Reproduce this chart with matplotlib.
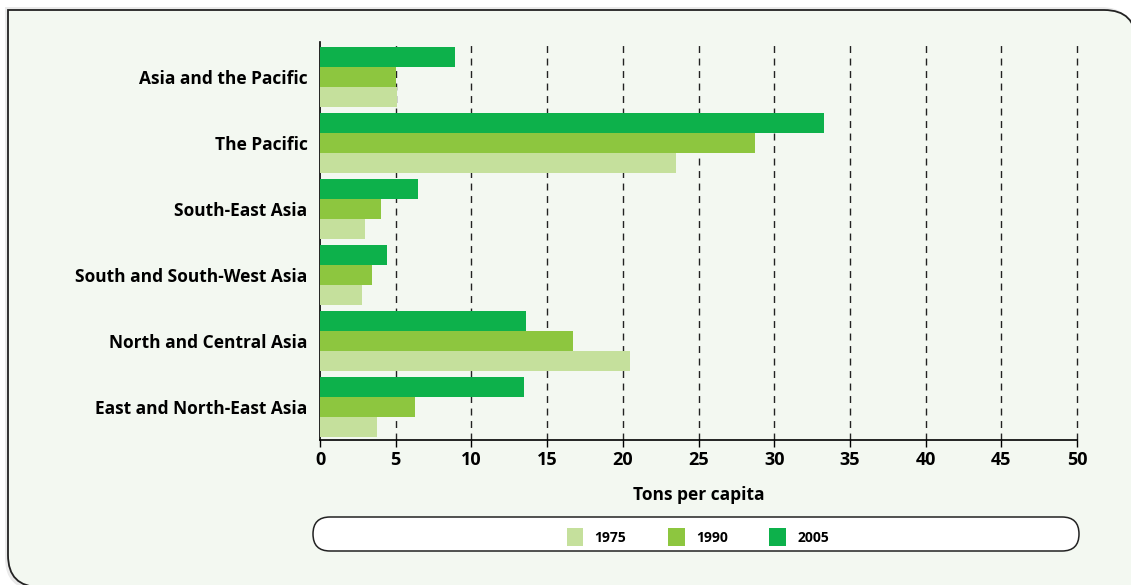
import matplotlib
matplotlib.use("Agg")
from matplotlib import pyplot as plt
from matplotlib.path import Path
from matplotlib.patches import PathPatch, FancyBboxPatch
import numpy as np

plt.rcParams['font.family'] = ['Open Sans', 'DejaVu Sans']

regions = ["Asia and the Pacific", "The Pacific", "South-East Asia",
           "South and South-West Asia", "North and Central Asia",
           "East and North-East Asia"]
years = ["1975", "1990", "2005"]
v1975 = [5.1, 23.5, 3.0, 2.75, 20.5, 3.75]
v1990 = [5.0, 28.7, 4.05, 3.45, 16.7, 6.25]
v2005 = [8.9, 33.3, 6.45, 4.4, 13.6, 13.5]
colors = ["#c5e09c", "#8dc63f", "#0db14b"]

W, H = 1131, 585
fig = plt.figure(figsize=(W / 100, H / 100), dpi=100)
fig.patch.set_facecolor("white")

# background panel, drawn in pixel coords
bg = fig.add_axes([0, 0, 1, 1])
bg.set_xlim(0, W)
bg.set_ylim(H, 0)
bg.axis("off")

def panel_path(x0, y0, x1, y1, r):
    # square top-left, rounded top-right and bottom-left
    verts = [(x0, y1 - r), (x0, y0), (x1 - r, y0), (x1, y0), (x1, y0 + r),
             (x1, y1), (x0 + r, y1), (x0, y1), (x0, y1 - r), (x0, y1 - r)]
    codes = [Path.MOVETO, Path.LINETO, Path.LINETO, Path.CURVE3, Path.CURVE3,
             Path.LINETO, Path.LINETO, Path.CURVE3, Path.CURVE3, Path.CLOSEPOLY]
    return Path(verts, codes)

r = 32
bg.add_patch(PathPatch(panel_path(5, 7, 1133, 590, r), facecolor="#dcdcdc",
                       edgecolor="none", alpha=0.6))
bg.add_patch(PathPatch(panel_path(8, 10, 1136, 587, r), facecolor="#f3f8f1",
                       edgecolor="#222222", linewidth=1.3))

# legend box
bg.add_patch(FancyBboxPatch((313, 517), 766, 34,
                            boxstyle="round,pad=0,rounding_size=17",
                            facecolor="white", edgecolor="#222222", linewidth=1.1))

# main chart
ax = fig.add_axes([320 / W, 1 - 440 / H, (1077 - 320) / W, (440 - 42) / H])
ax.set_facecolor("none")

y = np.arange(len(regions))
h = 0.3
ax.barh(y + h, v1975, height=h, color=colors[0], label=years[0], zorder=3)
ax.barh(y, v1990, height=h, color=colors[1], label=years[1], zorder=3)
ax.barh(y - h, v2005, height=h, color=colors[2], label=years[2], zorder=3)

ax.set_ylim(5.5, -0.53)
ax.set_xlim(0, 50)
ax.set_yticks(y)
ax.set_yticklabels(regions, fontsize=12.5, fontweight="bold")
ax.set_xticks(np.arange(0, 51, 5))
ax.set_xticklabels([str(t) for t in range(0, 51, 5)], fontsize=13, fontweight="bold")
ax.tick_params(axis="y", length=0, pad=9)
ax.tick_params(axis="x", length=5, width=1, pad=3)

for xv in range(5, 51, 5):
    ax.axvline(xv, color="#222222", linestyle=(0, (5, 4)), linewidth=1,
               zorder=1, clip_on=False)

for s in ["top", "right"]:
    ax.spines[s].set_visible(False)
ax.spines["left"].set_linewidth(1.2)
ax.spines["bottom"].set_linewidth(1.2)

ax.set_xlabel("Tons per capita", fontsize=12.5, fontweight="bold", labelpad=12)

fig.legend(loc="center", bbox_to_anchor=(0.617, 1 - 537 / H), ncol=3,
           frameon=False, handlelength=1.2, handleheight=1.6,
           columnspacing=3.0, handletextpad=0.8,
           prop={"size": 10, "weight": "bold"})

fig.savefig("out.png", dpi=100, facecolor=fig.get_facecolor())
